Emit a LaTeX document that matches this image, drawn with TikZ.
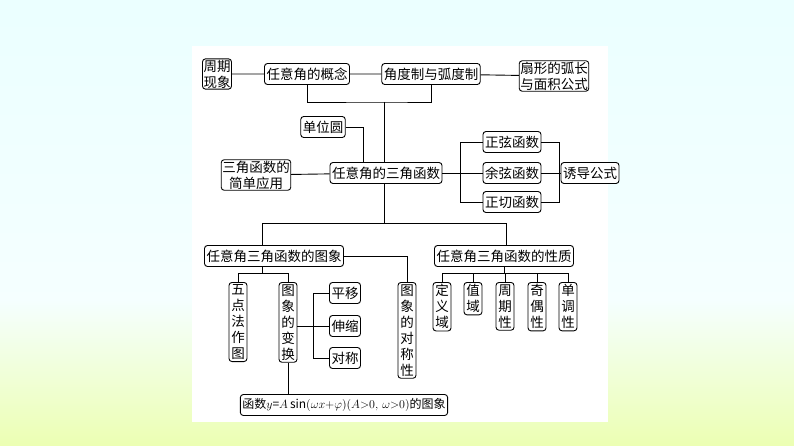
\documentclass[tikz,border=0pt]{standalone}
\usepackage{fontspec}
\setmainfont{Noto Sans CJK SC}
\usetikzlibrary{positioning}
\begin{document}
\begin{tikzpicture}[x=1pt,y=-1pt,line width=0.9pt,
 font=\fontsize{13.5}{16}\selectfont]
 \tikzstyle{box}=[draw,rounded corners=3pt,inner sep=2pt,minimum height=21pt,fill=white]
 \tikzstyle{vbox}=[box,text width=14pt,align=center,inner sep=2pt]
 \useasboundingbox (0,0) rectangle (794,446);
 \shade[top color=cyan!8,bottom color=cyan!4] (0,0) rectangle (794,300);
 \shade[top color=cyan!4,bottom color=green!25!yellow!30] (0,300) rectangle (794,446);
 \fill[white] (192,46) rectangle (608,422);

 \node[box,align=center,inner sep=1pt] (zq) at (217,74) {周期\\现象};
 \node[box] (gn) at (307,74) {任意角的概念};
 \node[box] (hd) at (431,74) {角度制与弧度制};
 \node[box,align=center,inner sep=1pt] (sx) at (554,76) {扇形的弧长\\与面积公式};
 \node[box] (dw) at (323,127) {单位圆};
 \node[box,align=center,inner sep=1pt] (yy) at (256,175) {三角函数的\\简单应用};
 \node[box] (sj) at (386,173) {任意角的三角函数};
 \node[box] (zx) at (512,142) {正弦函数};
 \node[box] (yx) at (512,173) {余弦函数};
 \node[box] (zqh) at (512,202) {正切函数};
 \node[box] (yd) at (590,173) {诱导公式};
 \node[box] (tx) at (274,256) {任意角三角函数的图象};
 \node[box] (xz) at (504,256) {任意角三角函数的性质};

 \node[vbox,anchor=north] (wd) at (238,282) {五\\点\\法\\作\\图};
 \node[vbox,anchor=north] (bh) at (288,282) {图\\象\\的\\变\\换};
 \node[vbox,anchor=north] (dc) at (407,282) {图\\象\\的\\对\\称\\性};
 \node[box] (py) at (345,293) {平移};
 \node[box] (ss) at (345,326) {伸缩};
 \node[box] (dcs) at (345,358) {对称};
 \node[box,font=\fontsize{12}{14}\selectfont] (hs) at (344,405) {函数$y$=$A\sin(\omega x{+}\varphi)(A{>}0,\,\omega{>}0)$的图象};

 \foreach \n/\x in {dy/442,zy/473,zq3/505,jo/537,dd/568} {
  \coordinate (c\n) at (\x,282);
 }
 \node[vbox,anchor=north] (dy) at (cdy) {定\\义\\域};
 \node[vbox,anchor=north] (zy) at (czy) {值\\域};
 \node[vbox,anchor=north] (zqx) at (czq3) {周\\期\\性};
 \node[vbox,anchor=north] (jo) at (cjo) {奇\\偶\\性};
 \node[vbox,anchor=north] (dd) at (cdd) {单\\调\\性};

 % top row
 \draw (zq) -- (gn) (gn) -- (hd) (hd) -- (sx);
 \draw (gn.south) |- (384,102) -| (hd.south);
 \draw (384,102) -- (sj.north -| 384,0);
 \draw (dw.east) -| (363,0 |- sj.north);
 \draw (yy) -- (sj);
 % sin cos tan
 \draw (sj.east) -- (460,173);
 \draw (zx.west) -| (460,0 |- zqh.west) -- (zqh.west);
 \draw (yx.west) -- (460,173);
 \draw (zx.east) -| (559,0 |- zqh.east) -- (zqh.east);
 \draw (yx.east) -- (yd.west);
 % trunk
 \draw (384,0 |- sj.south) -- (384,223);
 \draw (262,0 |- tx.north) |- (506,223) -- (506,0 |- xz.north);
 % image branch
 \draw (tx.east) -| (dc.north);
 \draw (262,0 |- tx.south) -- (262,273);
 \draw (wd.north) |- (288,273) -- (bh.north);
 \draw (bh.east |- ss) -- (ss.west);
 \draw (py.west) -| (313,0 |- dcs.west) -- (dcs.west);
 \draw (bh.south) -- (288,0 |- hs.north);
 % property branch
 \draw (504,0 |- xz.south) -- (504,273);
 \draw (dy.north) |- (568,273) -- (dd.north);
 \foreach \n in {zy,zqx,jo} \draw (\n.north) -- (\n.north |- 0,273);
\end{tikzpicture}
\end{document}
